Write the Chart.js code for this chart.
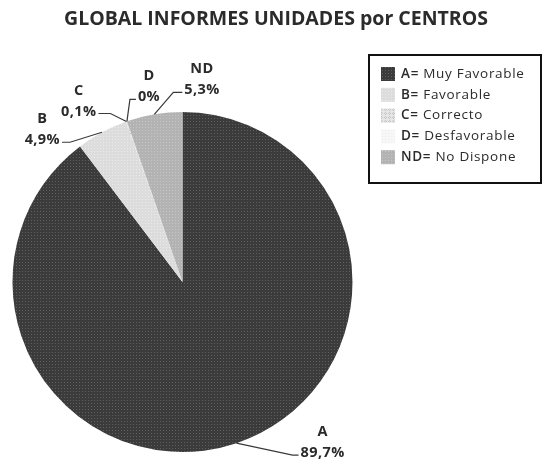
<!DOCTYPE html>
<html>
<head>
<meta charset="utf-8">
<script src="https://cdn.jsdelivr.net/npm/chart.js@4/dist/chart.umd.min.js"></script>
<style>
html,body{margin:0;padding:0;background:#fff;}
canvas{display:block;}
</style>
</head>
<body>
<canvas id="c" width="544" height="462"></canvas>
<script>
// ---- data ----
const categories = ['A', 'B', 'C', 'D', 'ND'];
const legendKeys = ['A=', 'B=', 'C=', 'D=', 'ND='];
const legendNames = ['Muy Favorable', 'Favorable', 'Correcto', 'Desfavorable', 'No Dispone'];
const percentages = [89.7, 4.9, 0.1, 0, 5.3];
const chartTitle = 'GLOBAL INFORMES UNIDADES por CENTROS';

// ---- styles ----
function makePattern(base, dot, size, dots) {
  const c = document.createElement('canvas');
  c.width = size; c.height = size;
  const x = c.getContext('2d');
  x.fillStyle = base; x.fillRect(0, 0, size, size);
  x.fillStyle = dot;
  dots.forEach(d => x.fillRect(d[0], d[1], 1, 1));
  return x.createPattern(c, 'repeat');
}
const fills = [
  makePattern('#3b3b3b', '#5f5f5f', 3, [[1, 1]]),
  makePattern('#dcdcdc', '#ebebeb', 3, [[1, 1]]),
  makePattern('#e6e6e6', '#c4c4c4', 4, [[1, 0], [0, 1], [2, 1], [1, 2]]),
  makePattern('#f7f7f7', '#eeeeee', 3, [[1, 1]]),
  makePattern('#b3b3b3', '#c6c6c6', 3, [[1, 1]])
];
// label leader geometry: elbow offset from the arc's outer mid point, horizontal run, text side
const labelLayout = [
  { dx: 56, dy: 12, run: 6, side: 'left' },
  { dx: -32, dy: 10, run: -8, side: 'right' },
  { dx: -16, dy: -8, run: -12, side: 'right' },
  { dx: 3, dy: -22, run: 6, side: 'left' },
  { dx: 19, dy: -22, run: 9, side: 'left' }
];
const FONT = '"Open Sans", Lato, sans-serif';

function fmtPct(v) {
  return (v === 0 ? '0' : v.toFixed(1).replace('.', ',')) + '%';
}

const overlay = {
  id: 'overlay',
  afterDraw(chart) {
    const ctx = chart.ctx;
    ctx.save();
    // title
    ctx.fillStyle = '#2b2b2b';
    ctx.font = 'bold 19.5px ' + FONT;
    ctx.textAlign = 'center';
    ctx.textBaseline = 'middle';
    ctx.fillText(chartTitle, 276, 19);

    // data labels with leader lines
    const meta = chart.getDatasetMeta(0);
    meta.data.forEach((arc, i) => {
      const p = arc.getProps(['x', 'y', 'startAngle', 'endAngle', 'outerRadius'], true);
      const a = (p.startAngle + p.endAngle) / 2;
      const ax = p.x + p.outerRadius * Math.cos(a);
      const ay = p.y + p.outerRadius * Math.sin(a);
      const L = labelLayout[i];
      const ex = ax + L.dx, ey = ay + L.dy;
      const hx = ex + L.run;
      ctx.strokeStyle = '#3a3a3a';
      ctx.lineWidth = 1.2;
      ctx.beginPath();
      ctx.moveTo(ax, ay);
      ctx.lineTo(ex, ey);
      ctx.lineTo(hx, ey);
      ctx.stroke();
      const pct = fmtPct(percentages[i]);
      ctx.font = 'bold 14.5px ' + FONT;
      ctx.letterSpacing = '0.4px';
      const w = ctx.measureText(pct).width;
      const left = L.side === 'left' ? hx + 2 : hx - 2 - w;
      const cxText = left + w / 2;
      const ty = ey - 2;
      ctx.fillStyle = '#2b2b2b';
      ctx.textAlign = 'center';
      ctx.textBaseline = 'middle';
      ctx.fillText(pct, cxText, ty);
      ctx.fillText(categories[i], cxText, ty - 21);
      ctx.letterSpacing = '0px';
    });

    // legend box
    const bx = 369, by = 55, bw = 172, bh = 128;
    ctx.strokeStyle = '#111';
    ctx.lineWidth = 2;
    ctx.strokeRect(bx, by, bw, bh);
    ctx.textAlign = 'left';
    ctx.textBaseline = 'middle';
    ctx.letterSpacing = '0.7px';
    categories.forEach((c, i) => {
      const y = 74 + i * 20.8;
      ctx.fillStyle = fills[i];
      ctx.fillRect(381, y - 7, 14, 14);
      ctx.fillStyle = '#2b2b2b';
      ctx.font = '600 13.5px ' + FONT;
      ctx.fillText(legendKeys[i], 401, y);
      const kw = ctx.measureText(legendKeys[i]).width;
      ctx.font = '13.5px ' + FONT;
      ctx.fillText(' ' + legendNames[i], 401 + kw, y);
    });
    ctx.letterSpacing = '0px';
    ctx.restore();
  }
};

new Chart(document.getElementById('c'), {
  type: 'pie',
  data: {
    labels: categories,
    datasets: [{
      data: percentages,
      backgroundColor: fills,
      borderWidth: 0
    }]
  },
  options: {
    responsive: false,
    animation: false,
    layout: { padding: { left: 12.5, right: 191.5, top: 112, bottom: 10 } },
    plugins: {
      legend: { display: false },
      title: { display: false },
      tooltip: { enabled: false }
    }
  },
  plugins: [overlay]
});
</script>
</body>
</html>
